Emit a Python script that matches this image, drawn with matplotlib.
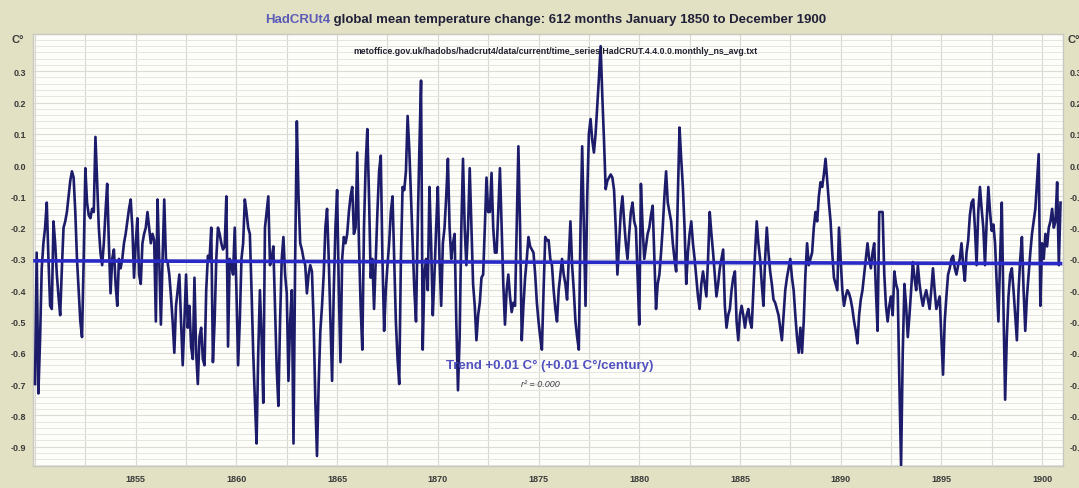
import numpy as np
import matplotlib
matplotlib.use("Agg")
import matplotlib.pyplot as plt
from matplotlib.ticker import FixedLocator, MultipleLocator, FuncFormatter

plt.rcParams['axes.unicode_minus'] = False
plt.rcParams['font.family'] = ['Liberation Sans', 'DejaVu Sans']

start_year = 1850

anom_1850s = [
    -0.70, -0.28, -0.73, -0.56, -0.33, -0.25, -0.20, -0.12, -0.30, -0.45, -0.46, -0.18,
    -0.25, -0.35, -0.42, -0.48, -0.33, -0.20, -0.18, -0.15, -0.10, -0.05, -0.02, -0.04,
    -0.15, -0.30, -0.40, -0.50, -0.55, -0.30, -0.01, -0.12, -0.16, -0.17, -0.14, -0.15,
    0.09, -0.05, -0.20, -0.28, -0.32, -0.25, -0.15, -0.06, -0.25, -0.41, -0.30, -0.27,
    -0.38, -0.45, -0.30, -0.33, -0.30, -0.25, -0.22, -0.18, -0.14, -0.11, -0.20, -0.36,
    -0.25, -0.17, -0.35, -0.38, -0.25, -0.22, -0.20, -0.15, -0.20, -0.25, -0.22, -0.24,
    -0.50, -0.11, -0.30, -0.51, -0.30, -0.11, -0.30, -0.31, -0.35, -0.42, -0.50, -0.60,
    -0.45, -0.40, -0.35, -0.50, -0.64, -0.50, -0.35, -0.52, -0.45, -0.58, -0.62, -0.36,
    -0.60, -0.70, -0.55, -0.52, -0.62, -0.64, -0.40, -0.29, -0.30, -0.20, -0.63, -0.50,
    -0.30, -0.20, -0.22, -0.25, -0.27, -0.26, -0.10, -0.58, -0.30, -0.32, -0.35, -0.20,
]
anom_1860s = [
    -0.40, -0.64, -0.50, -0.30, -0.25, -0.11, -0.15, -0.20, -0.22, -0.40, -0.60, -0.75,
    -0.89, -0.60, -0.40, -0.55, -0.76, -0.20, -0.15, -0.10, -0.32, -0.30, -0.26, -0.45,
    -0.65, -0.77, -0.50, -0.30, -0.23, -0.35, -0.41, -0.69, -0.50, -0.40, -0.89, -0.30,
    0.14, -0.10, -0.25, -0.27, -0.30, -0.32, -0.41, -0.35, -0.32, -0.34, -0.50, -0.75,
    -0.93, -0.70, -0.53, -0.45, -0.35, -0.20, -0.14, -0.30, -0.50, -0.69, -0.40, -0.20,
    -0.08, -0.40, -0.63, -0.30, -0.23, -0.25, -0.22, -0.15, -0.10, -0.07, -0.22, -0.20,
    0.04, -0.25, -0.45, -0.59, -0.20, 0.00, 0.115, -0.10, -0.36, -0.30, -0.46, -0.30,
    -0.15, -0.02, 0.03, -0.30, -0.53, -0.40, -0.32, -0.25, -0.15, -0.10, -0.30, -0.50,
    -0.62, -0.70, -0.30, -0.07, -0.08, -0.02, 0.157, 0.05, -0.10, -0.25, -0.40, -0.50,
    -0.20, 0.05, 0.27, -0.59, -0.35, -0.30, -0.40, -0.07, -0.25, -0.48, -0.35, -0.20,
]
anom_1870s = [
    -0.07, -0.30, -0.45, -0.25, -0.20, -0.10, 0.02, -0.20, -0.30, -0.25, -0.22, -0.50,
    -0.72, -0.55, -0.20, 0.02, -0.20, -0.32, -0.20, -0.01, -0.20, -0.38, -0.45, -0.56,
    -0.48, -0.44, -0.36, -0.35, -0.20, -0.04, -0.15, -0.15, -0.025, -0.20, -0.28, -0.28,
    -0.15, -0.01, -0.20, -0.38, -0.51, -0.40, -0.35, -0.42, -0.47, -0.44, -0.45, -0.20,
    0.06, -0.20, -0.56, -0.45, -0.36, -0.30, -0.23, -0.26, -0.27, -0.28, -0.35, -0.44,
    -0.50, -0.55, -0.59, -0.40, -0.23, -0.24, -0.24, -0.30, -0.32, -0.40, -0.46, -0.50,
    -0.40, -0.35, -0.30, -0.35, -0.38, -0.43, -0.30, -0.18, -0.32, -0.40, -0.50, -0.55,
    -0.59, -0.20, 0.06, -0.20, -0.45, -0.10, 0.10, 0.147, 0.08, 0.04, 0.10, 0.19,
    0.28, 0.38, 0.22, 0.08, -0.077, -0.05, -0.04, -0.03, -0.04, -0.08, -0.20, -0.35,
    -0.25, -0.15, -0.10, -0.18, -0.25, -0.30, -0.22, -0.15, -0.12, -0.18, -0.20, -0.35,
]
anom_1880s = [
    -0.51, -0.06, -0.20, -0.30, -0.26, -0.22, -0.20, -0.16, -0.13, -0.30, -0.46, -0.38,
    -0.35, -0.28, -0.20, -0.10, -0.02, -0.12, -0.15, -0.18, -0.25, -0.30, -0.34, -0.10,
    0.12, 0.02, -0.07, -0.20, -0.38, -0.28, -0.22, -0.18, -0.25, -0.30, -0.36, -0.42,
    -0.46, -0.38, -0.34, -0.38, -0.42, -0.30, -0.15, -0.22, -0.28, -0.35, -0.42, -0.38,
    -0.33, -0.30, -0.27, -0.45, -0.52, -0.48, -0.46, -0.40, -0.36, -0.34, -0.50, -0.56,
    -0.48, -0.45, -0.48, -0.52, -0.48, -0.46, -0.50, -0.52, -0.40, -0.28, -0.18, -0.25,
    -0.30, -0.38, -0.45, -0.30, -0.20, -0.28, -0.34, -0.38, -0.43, -0.44, -0.46, -0.48,
    -0.52, -0.56, -0.48, -0.40, -0.36, -0.33, -0.30, -0.36, -0.40, -0.48, -0.55, -0.60,
    -0.52, -0.60, -0.50, -0.35, -0.25, -0.32, -0.30, -0.28, -0.20, -0.15, -0.18, -0.10,
    -0.055, -0.07, -0.03, 0.02, -0.05, -0.12, -0.18, -0.28, -0.36, -0.38, -0.40, -0.20,
]
anom_1890s = [
    -0.30, -0.40, -0.45, -0.42, -0.40, -0.41, -0.43, -0.46, -0.50, -0.53, -0.57, -0.48,
    -0.43, -0.40, -0.35, -0.30, -0.25, -0.30, -0.33, -0.28, -0.25, -0.40, -0.53, -0.15,
    -0.15, -0.15, -0.35, -0.45, -0.50, -0.45, -0.42, -0.48, -0.34, -0.38, -0.40, -0.70,
    -0.96, -0.60, -0.38, -0.45, -0.55, -0.48, -0.40, -0.31, -0.36, -0.40, -0.32, -0.38,
    -0.42, -0.45, -0.42, -0.40, -0.43, -0.46, -0.40, -0.33, -0.40, -0.46, -0.44, -0.42,
    -0.55, -0.67, -0.50, -0.42, -0.35, -0.33, -0.30, -0.29, -0.33, -0.35, -0.32, -0.30,
    -0.25, -0.32, -0.37, -0.28, -0.24, -0.16, -0.12, -0.11, -0.20, -0.32, -0.15, -0.07,
    -0.14, -0.20, -0.32, -0.18, -0.07, -0.15, -0.21, -0.19, -0.25, -0.38, -0.50, -0.30,
    -0.12, -0.45, -0.75, -0.55, -0.42, -0.35, -0.33, -0.40, -0.48, -0.56, -0.40, -0.30,
    -0.23, -0.40, -0.53, -0.42, -0.35, -0.28, -0.22, -0.18, -0.14, -0.05, 0.035, -0.45,
]
anom_1900 = [
    -0.25, -0.30, -0.22, -0.26, -0.20, -0.18, -0.14, -0.20, -0.18, -0.055, -0.32, -0.12,
]

x_tick_years = [1855, 1860, 1865, 1870, 1875, 1880, 1885, 1890, 1895, 1900]
y_tick_values = [0.3, 0.2, 0.1, 0.0, -0.1, -0.2, -0.3, -0.4, -0.5, -0.6, -0.7, -0.8, -0.9]

title_lead = "HadCRUt4"
title_rest = " global mean temperature change: 612 months January 1850 to December 1900"
source_text = "metoffice.gov.uk/hadobs/hadcrut4/data/current/time_series/HadCRUT.4.4.0.0.monthly_ns_avg.txt"
trend_text = "Trend +0.01 C\u00b0 (+0.01 C\u00b0/century)"
r2_text = "r\u00b2 = 0.000"

values = np.array(anom_1850s + anom_1860s + anom_1870s + anom_1880s + anom_1890s + anom_1900)
t = start_year + np.arange(len(values)) / 12.0

W, H = 1079, 489
fig = plt.figure(figsize=(W / 100, H / 100), dpi=100, facecolor='#e2e1c3')
left, right, top, bottom = 33, 1063, 35, 467
ax = fig.add_axes([left / W, 1 - bottom / H, (right - left) / W, (bottom - top) / H])
ax.set_facecolor('#fdfdf9')

ax.set_xlim(1849.9, 1901.04)
ax.set_ylim(-0.962, 0.419)

# grid
ax.yaxis.set_major_locator(FixedLocator(y_tick_values))
ax.yaxis.set_minor_locator(MultipleLocator(0.02))
ax.xaxis.set_major_locator(FixedLocator(x_tick_years))
ax.xaxis.set_minor_locator(MultipleLocator(2.5))
ax.grid(which='minor', axis='y', color='#e6e6e0', lw=0.7)
ax.grid(which='major', axis='y', color='#dcdcd4', lw=0.8)
ax.grid(which='both', axis='x', color='#d8d8d0', lw=0.8)
ax.set_axisbelow(True)

ax.yaxis.set_major_formatter(FuncFormatter(lambda v, p: f"{v:.1f}"))
ax.tick_params(which='both', length=0)
ax.tick_params(axis='y', labelsize=6.5, labelcolor='#3a3a3a', pad=5,
               labelleft=True, labelright=True)
ax.tick_params(axis='x', labelsize=6.5, labelcolor='#3a3a3a', pad=6)
for lab in ax.get_xticklabels() + ax.get_yticklabels():
    lab.set_fontweight('bold')

for s in ax.spines.values():
    s.set_color('#c8c8c0')
    s.set_linewidth(1.0)

# data
ax.plot(t, values, color='#1c1c6a', lw=1.9, solid_joinstyle='round', zorder=3)

# trend
coef = np.polyfit(t, values, 1)
tx = np.array([t[0], t[-1]])
ax.plot(tx, np.polyval(coef, tx), color='#2a2ac8', lw=2.6, zorder=4)

# texts
t1 = fig.text(265 / W, 1 - 20 / H, title_lead, color='#5c5cb8', fontsize=9.5,
              fontweight='bold', ha='left', va='center')
fig.canvas.draw()
ax.annotate(title_rest, xy=(1, 0.5), xycoords=t1, va='center', ha='left',
            color='#202038', fontsize=9.5, fontweight='bold')
fig.text(555 / W, 1 - 52 / H, source_text, color='#202030', fontsize=6.3,
         fontweight='bold', ha='center', va='center')
fig.text(550 / W, 1 - 366 / H, trend_text, color='#5050c0', fontsize=9.5,
         fontweight='bold', ha='center', va='center', zorder=6)
fig.text(540 / W, 1 - 385 / H, r2_text, color='#404050', fontsize=6.5,
         style='italic', ha='center', va='center', zorder=6)
fig.text(12 / W, 1 - 40 / H, "C\u00b0", color='#3a3a3a', fontsize=8,
         fontweight='bold', ha='left', va='center')
fig.text(1068 / W, 1 - 40 / H, "C\u00b0", color='#3a3a3a', fontsize=8,
         fontweight='bold', ha='left', va='center')

fig.savefig('out.png', dpi=100, facecolor=fig.get_facecolor())
